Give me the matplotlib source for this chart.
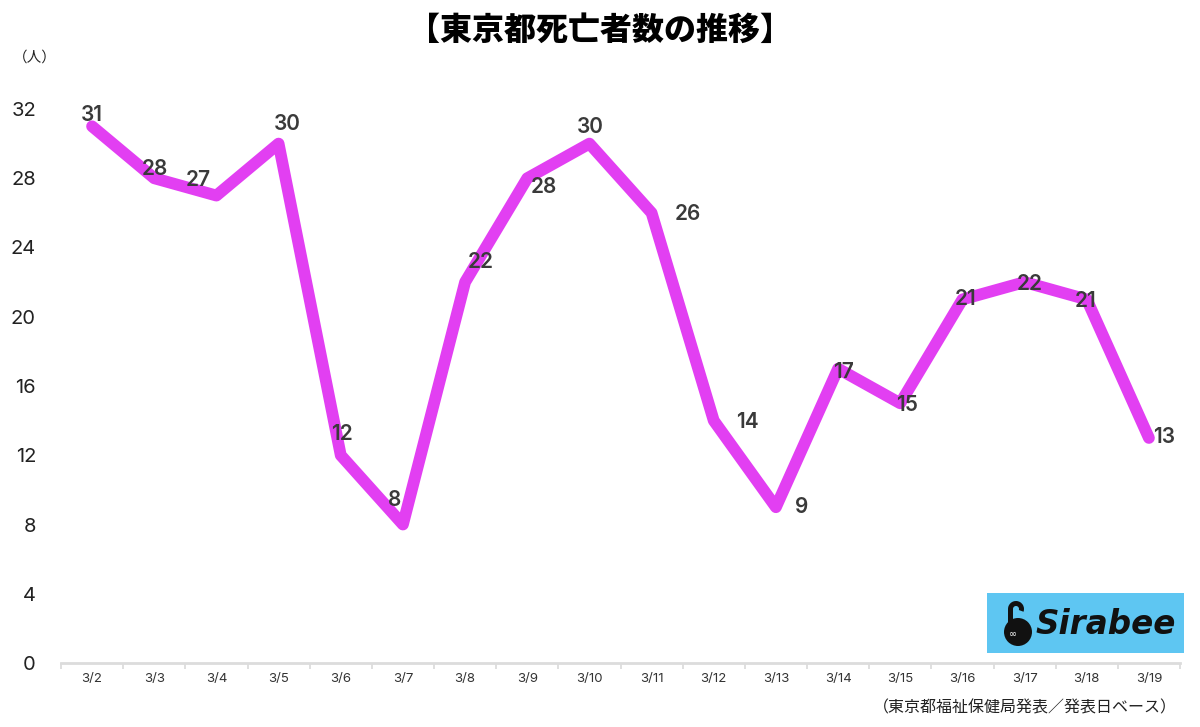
import matplotlib
matplotlib.use("Agg")
import matplotlib.pyplot as plt
from matplotlib.patches import Rectangle, Circle, Wedge
from matplotlib.transforms import IdentityTransform

plt.rcParams['font.family'] = ['Inter', 'Noto Sans CJK JP', 'DejaVu Sans']

# ---------------- data ----------------
dates = ["3/2", "3/3", "3/4", "3/5", "3/6", "3/7", "3/8", "3/9", "3/10",
         "3/11", "3/12", "3/13", "3/14", "3/15", "3/16", "3/17", "3/18", "3/19"]
deaths = [31, 28, 27, 30, 12, 8, 22, 28, 30, 26, 14, 9, 17, 15, 21, 22, 21, 13]
y_ticks = [0, 4, 8, 12, 16, 20, 24, 28, 32]

# label nudges in pixels (hand placed in the original)
label_offsets = [(0, 11), (1, 9), (-18, 16), (9, 20), (1, 21), (-8, 25),
                 (16, 20), (17, -9), (1, 17), (36, -1), (34, -1), (26, 0),
                 (5, -3), (7, -2), (3, 0), (5, -2), (-1, -2), (15, 1)]

LINE_COLOR = "#e23ff2"
W, H = 1200, 727

fig = plt.figure(figsize=(12, 7.27), dpi=100)
ax = fig.add_axes([61 / W, 1 - 663 / H, (1180 - 61) / W, (663 - 109) / H])

x = list(range(len(dates)))
ax.plot(x, deaths, color=LINE_COLOR, lw=8.5, solid_joinstyle="round",
        solid_capstyle="round", clip_on=False, zorder=2)

for xi, v, (dx, dy) in zip(x, deaths, label_offsets):
    ax.annotate(str(v), (xi, v), xytext=(dx, dy), textcoords="offset pixels",
                ha="center", va="center", fontsize=15, color="#3a3a3a",
                fontweight="semibold", zorder=3, annotation_clip=False)

ax.set_xlim(-0.5, len(dates) - 0.5)
ax.set_ylim(0, 32)

ax.set_yticks(y_ticks)
ax.tick_params(axis="y", length=0, labelsize=14.5, labelcolor="#222222", pad=18)
ax.set_xticks(x)
ax.set_xticklabels(dates)
ax.tick_params(axis="x", length=0, labelsize=9.5, labelcolor="#333333", pad=7)
# small ticks between categories
ax.set_xticks([i - 0.5 for i in range(len(dates) + 1)], minor=True)
ax.tick_params(axis="x", which="minor", length=4, width=1.2, color="#d9d9d9")

for side in ["top", "right", "left"]:
    ax.spines[side].set_visible(False)
ax.spines["bottom"].set_color("#dcdcdc")
ax.spines["bottom"].set_linewidth(2)

# titles / notes
jp = ["Noto Sans CJK JP", "DejaVu Sans"]
fig.text(0.5, 1 - 30 / H, "【東京都死亡者数の推移】", ha="center", va="center",
         fontsize=23, fontweight="heavy", color="black", family=jp)
fig.text(35 / W, 1 - 58 / H, "（人）", ha="center", va="center",
         fontsize=10.5, color="#222222", family=jp)
fig.text(1177 / W, 1 - 708 / H, "（東京都福祉保健局発表／発表日ベース）",
         ha="right", va="center", fontsize=11.5, color="#222222", family=jp)

# logo box (pixel coordinates, origin bottom-left)
px = IdentityTransform()
fig.patches.append(Rectangle((987, H - 653), 197, 60, transform=px,
                             facecolor="#5ec6f2", edgecolor="none", zorder=5))
fig.patches.append(Circle((1018, H - 632), 14, transform=px,
                          facecolor="#111111", edgecolor="none", zorder=6))
fig.patches.append(Wedge((1016, H - 609), 8, 340, 185, width=5, transform=px,
                         facecolor="#111111", edgecolor="none", zorder=6))
fig.patches.append(Rectangle((1008, H - 624), 5, 15, transform=px,
                             facecolor="#111111", edgecolor="none", zorder=6))
fig.text(1013 / W, 1 - 634 / H, "∞", ha="center", va="center",
         fontsize=7, color="white", family="DejaVu Sans", zorder=7)
fig.text(1035 / W, 1 - 625 / H, "Sirabee", ha="left", va="center",
         fontsize=23.5, fontweight="bold", style="italic", family="DejaVu Sans",
         color="#111111", zorder=7)

fig.savefig("out.png", dpi=100)
